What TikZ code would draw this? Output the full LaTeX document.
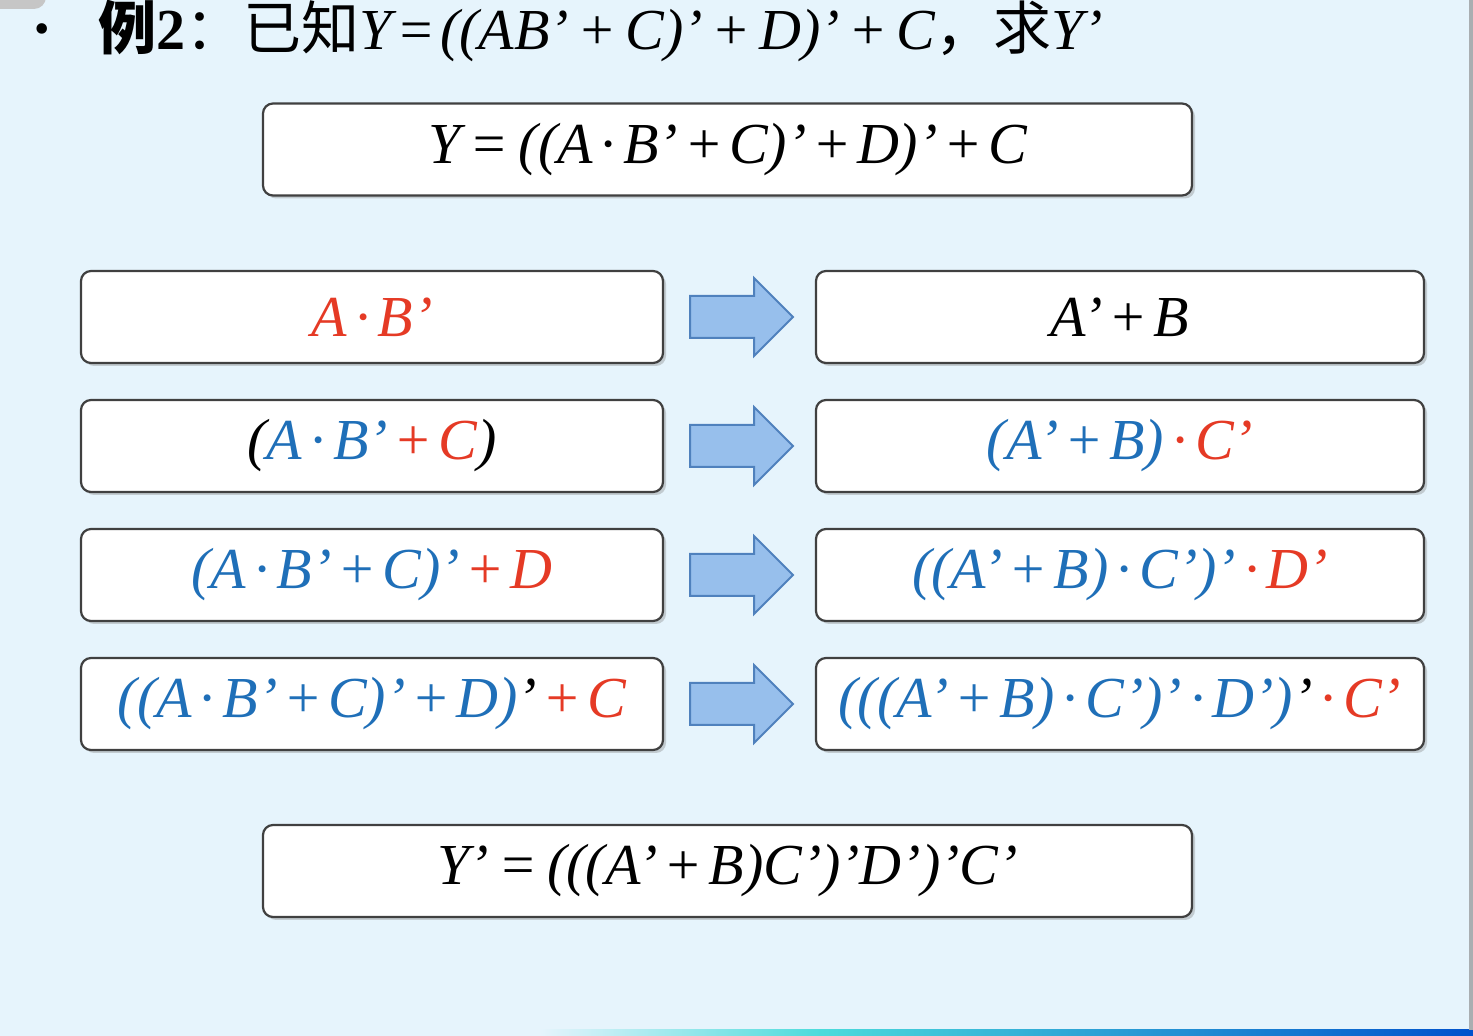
\documentclass[tikz,border=0pt]{standalone}
\usepackage{fontspec}
\setmainfont{Liberation Serif}
\newfontfamily\cjk{Noto Sans CJK SC}
\usetikzlibrary{shadows,shapes.arrows}
\definecolor{bg}{HTML}{E6F4FC}
\definecolor{rd}{HTML}{E53A25}
\definecolor{bl}{HTML}{1F6FB8}
\definecolor{arrfill}{HTML}{97BFEC}
\definecolor{arrline}{HTML}{4F81BD}
\newcommand{\R}[1]{\textcolor{rd}{#1}}
\newcommand{\B}[1]{\textcolor{bl}{#1}}
\newcommand{\pl}{\hspace{0.1em}+\hspace{0.1em}}
\newcommand{\tpl}{\hspace{0.15em}+\hspace{0.15em}}
\newcommand{\dt}{\hspace{0.14em}·\hspace{0.14em}}
\begin{document}
\begin{tikzpicture}[x=0.5pt,y=-0.5pt,
  box/.style={draw=black!75,line width=1.1pt,fill=white,rounded corners=5pt,
    drop shadow={opacity=0.35,shadow xshift=1.5pt,shadow yshift=-1.5pt},
    minimum height=46pt,inner sep=0pt,font=\fontsize{29}{32}\selectfont\itshape},
  lbox/.style={box,minimum width=291pt},
  rbox/.style={box,minimum width=304pt},
  wbox/.style={box,minimum width=464.5pt},
  arr/.style={single arrow,draw=arrline,fill=arrfill,line width=1pt,
    minimum height=51.5pt,inner sep=0pt,inner ysep=10pt,single arrow head extend=9pt,
    single arrow tip angle=90},
  ttl/.style={font=\fontsize{29}{32}\selectfont,inner sep=0pt,anchor=base west}]
\fill[bg] (0,0) rectangle (1473,1036);
\useasboundingbox (0,0) rectangle (1473,1036);
\fill[gray!45,rounded corners=6pt] (-20,-20) rectangle (46,9);
\shade[left color=bg,right color=cyan!60!teal!70] (540,1029) rectangle (820,1036);
\shade[left color=cyan!60!teal!70,right color=blue!60!cyan!80!black] (820,1029) rectangle (1473,1036);
\fill[gray!60!bg] (1469,0) rectangle (1473,1030);

\node[ttl] (bul) at (34,44) {\fontsize{22}{24}\selectfont •};
\node[ttl] (title) at (98,50) {{\cjk\bfseries 例}\textbf{2}{\cjk ：已知}\textit{Y\hspace{0.08em}=\hspace{0.08em}((AB’\tpl C)’\tpl D)’\tpl C}{\cjk ，求}\textit{Y’}};

\node[wbox] (top) at (727.5,149.5) {Y\,=\,((A\dt B’\pl C)’\pl D)’\pl C};

\node[lbox] (L1) at (372,317) {\R{A\dt B’}};
\node[rbox] (R1) at (1120,317) {A’\pl B};
\node[lbox] (L2) at (372,446) {(\B{A\dt B’}\R{\pl C})};
\node[rbox] (R2) at (1120,446) {\B{(A’\pl B)}\R{\dt C’}};
\node[lbox] (L3) at (372,575) {\B{(A\dt B’\pl C)’}\R{\pl D}};
\node[rbox] (R3) at (1120,575) {\B{((A’\pl B)\dt C’)’}\R{\dt D’}};
\node[lbox] (L4) at (372,704) {\B{((A\dt B’\pl C)’\pl D)}’\R{\pl C}};
\node[rbox] (R4) at (1120,704) {\B{(((A’\pl B)\dt C’)’\dt D’)}’\R{\dt C’}};

\foreach \i/\y in {1/317,2/446,3/575,4/704}
  \node[arr] (a\i) at (731,\y) {};

\node[wbox] (bot) at (727.5,871) {Y’\,=\,(((A’\pl B)C’)’D’)’C’};
\end{tikzpicture}
\end{document}
